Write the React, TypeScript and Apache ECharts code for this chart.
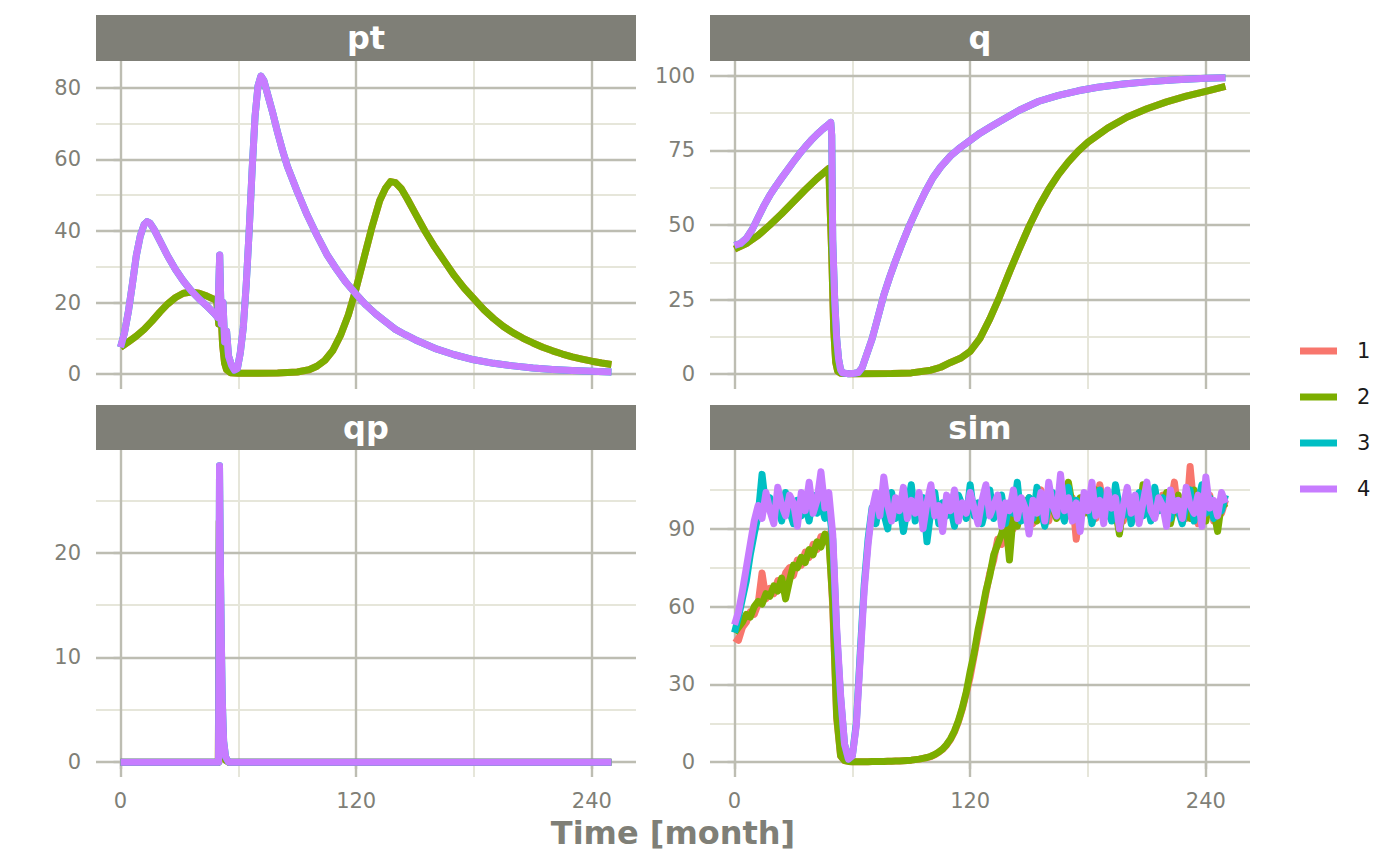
import React, { useEffect, useRef } from 'react';
import * as echarts from 'echarts';

// group names and ggplot hue colours
const seriesNames = ['1', '2', '3', '4'];
const seriesColors = ['#F8766D', '#7CAE00', '#00BFC4', '#C77CFF'];
const panelNames = ['pt', 'q', 'qp', 'sim'];

// x axis (months)
const timeTicks = [0, 120, 240];
const timeMinor = [60, 180];

// y axis ticks per panel
const ptTicks = [0, 20, 40, 60, 80];
const ptMinor = [10, 30, 50, 70];
const qTicks = [0, 25, 50, 75, 100];
const qMinor = [12.5, 37.5, 62.5, 87.5];
const qpTicks = [0, 10, 20];
const qpMinor = [5, 15, 25];
const simTicks = [0, 30, 60, 90];
const simMinor = [15, 45, 75, 105];

// pt: groups 1 & 2 share a trajectory, groups 3 & 4 share another
const ptGroupA: [number, number][] = [
  [0, 7.5], [4, 9.0], [8, 10.6], [12, 12.5], [16, 14.8], [20, 17.3], [24, 19.6], [28, 21.4],
  [32, 22.6], [36, 22.9], [40, 22.6], [44, 21.8], [48, 20.8], [49, 20.3], [50, 14], [51, 19],
  [52, 8], [53, 3], [54, 1.2], [56, 0.4], [60, 0.2], [70, 0.2], [80, 0.3], [90, 0.6],
  [96, 1.2], [100, 2.2], [104, 3.8], [108, 6.5], [112, 10.8], [116, 16.5], [120, 24],
  [124, 32.5], [128, 41], [132, 48.5], [135, 52], [137.5, 53.8], [140, 53.5], [143, 51.8],
  [146, 49], [150, 45], [155, 40], [160, 35.5], [165, 31.5], [170, 27.5], [175, 24],
  [180, 21], [185, 18], [190, 15.5], [195, 13.3], [200, 11.5], [205, 10], [210, 8.7],
  [215, 7.5], [220, 6.5], [225, 5.6], [230, 4.8], [235, 4.2], [240, 3.6], [245, 3.1], [250, 2.7],
];
const ptGroupB: [number, number][] = [
  [0, 7.5], [2, 11.5], [4, 17.5], [6, 25], [8, 33], [10, 38.5], [12, 41.8], [13.5, 42.6],
  [15, 42.2], [17, 40.5], [20, 37.3], [24, 33], [28, 29.2], [32, 26], [36, 23.3], [40, 21],
  [44, 19], [48, 16.8], [49.5, 15.8], [50.5, 33.3], [51.3, 14], [52.2, 20], [53, 9], [54, 12],
  [55, 5], [56.5, 2.5], [58, 1.1], [59.5, 1.5], [61, 6], [62.5, 13], [64, 25], [65.5, 40],
  [67, 57], [68.5, 72], [70, 80.5], [71.5, 83.3], [73, 82], [75, 78], [77.5, 73], [80, 67.5],
  [82.5, 62.5], [85, 58], [90, 51], [95, 44.5], [100, 38.8], [105, 33.5], [110, 29.3],
  [115, 25.5], [120, 22.3], [125, 19.3], [130, 16.8], [135, 14.6], [140, 12.5], [145, 11],
  [150, 9.6], [160, 7.2], [170, 5.4], [180, 4.0], [190, 3.0], [200, 2.3], [210, 1.7],
  [220, 1.3], [230, 1.0], [240, 0.8], [250, 0.6],
];

// q
const qGroupA: [number, number][] = [
  [0, 41.9], [6, 43.8], [12, 46.5], [18, 50], [24, 53.8], [30, 57.8], [36, 61.8], [42, 65.6],
  [48, 69], [49.5, 40], [50.5, 15], [51.5, 4], [52.5, 1], [54, 0.3], [60, 0.1], [80, 0.2],
  [90, 0.4], [100, 1.3], [105, 2.3], [110, 3.9], [115, 5.3], [120, 7.6], [125, 12], [130, 18.5],
  [135, 26], [140, 34.2], [145, 42], [150, 49.5], [155, 56.2], [160, 62], [165, 67], [170, 71.2],
  [175, 74.8], [180, 77.8], [190, 82.5], [200, 86.2], [210, 89], [220, 91.3], [230, 93.2],
  [240, 94.8], [250, 96.5],
];
const qGroupB: [number, number][] = [
  [0, 43.2], [3, 43.8], [6, 45.5], [9, 48.5], [12, 52.5], [15, 56.5], [18, 60], [21, 63],
  [24, 65.8], [27, 68.5], [30, 71.2], [33, 73.8], [36, 76.2], [39, 78.4], [42, 80.4],
  [45, 82.2], [48, 83.8], [49, 84.4], [49.5, 80], [50, 45], [51, 25], [52, 12], [53, 5],
  [54, 1.5], [55, 0.4], [58, 0.1], [61, 0.3], [63, 0.5], [65, 2.2], [67, 6], [70, 11.7],
  [73, 19], [76, 26.5], [79, 32.5], [82, 38], [85, 43.2], [89, 49.7], [93, 55.5], [97, 61],
  [101, 65.8], [105, 69.5], [110, 73.2], [115, 76], [120, 78.4], [125, 80.8], [130, 82.8],
  [137, 85.5], [145, 88.5], [155, 91.5], [165, 93.5], [175, 95], [185, 96.2], [198, 97.3],
  [210, 98], [225, 98.7], [240, 99.2], [250, 99.4],
];

// qp
const qpGroupA: [number, number][] = [
  [0, 0], [49.8, 0], [50.3, 23], [50.8, 12], [51.5, 5], [52.5, 1.2], [53.5, 0.2], [55, 0], [250, 0],
];
const qpGroupB: [number, number][] = [
  [0, 0], [49.9, 0], [50.4, 28.3], [50.9, 18], [51.3, 12], [51.8, 6], [52.5, 2], [53.5, 0.5],
  [55, 0], [250, 0],
];

// sim: one simulated realisation per group, every 2 months from 0 to 250
const simMonths = Array.from({ length: 126 }, (_, i) => i * 2);
const sim1 = [
  48, 47, 52, 54, 58, 57, 61, 73, 63, 67,
  65, 70, 68, 73, 75, 72, 78, 76, 81, 79,
  84, 82, 87, 85, 88, 60, 17, 2.4, 0.6, 0.3,
  0.2, 0.2, 0.2, 0.2, 0.2, 0.3, 0.3, 0.3, 0.3, 0.4,
  0.4, 0.5, 0.5, 0.6, 0.7, 0.8, 1.0, 1.2, 1.5, 1.8,
  2.2, 2.9, 3.8, 5.0, 6.6, 8.8, 11.7, 15.6, 20.5, 26.5,
  33, 41, 49, 57, 65, 73, 78, 86, 84, 91,
  95, 90, 98, 94, 101, 96, 92, 100, 105, 97,
  93, 101, 96, 104, 99, 95, 102, 86, 98, 103,
  96, 100, 94, 107, 99, 97, 102, 95, 100, 93,
  104, 98, 101, 96, 99, 105, 94, 100, 97, 103,
  95, 99, 108, 96, 101, 94, 114, 98, 92, 100,
  97, 103, 93, 99, 96, 101,
];
const sim2 = [
  50, 52, 54, 57, 56, 60, 62, 61, 65, 64,
  68, 66, 71, 63, 70, 76, 75, 79, 77, 82,
  80, 85, 83, 88, 86, 62, 18, 2.5, 0.6, 0.3,
  0.2, 0.2, 0.2, 0.2, 0.2, 0.3, 0.3, 0.3, 0.3, 0.4,
  0.4, 0.5, 0.5, 0.6, 0.7, 0.8, 1.0, 1.2, 1.5, 1.8,
  2.3, 3.0, 3.9, 5.1, 6.8, 9, 12, 16, 21, 27,
  35, 42, 51, 58, 66, 72, 80, 84, 88, 94,
  78, 96, 91, 99, 95, 102, 97, 93, 100, 96,
  104, 98, 94, 101, 97, 108, 99, 95, 102, 96,
  100, 93, 105, 98, 101, 95, 103, 97, 88, 99,
  104, 96, 100, 93, 107, 98, 102, 95, 100, 97,
  104, 92, 99, 103, 96, 101, 94, 105, 98, 100,
  93, 102, 97, 89, 100, 98,
];
const sim3 = [
  50, 56, 63, 70, 80, 88, 95, 111, 98, 102,
  95, 100, 93, 104, 97, 92, 101, 95, 99, 93,
  103, 96, 100, 94, 99, 86, 50, 25, 7, 1.2,
  2.6, 15, 42, 68, 86, 98, 92, 101, 96, 90,
  104, 94, 100, 89, 98, 107, 93, 99, 102, 85,
  97, 104, 92, 100, 95, 98, 91, 103, 99, 94,
  107, 95, 100, 92, 98, 105, 94, 99, 103, 92,
  100, 96, 108, 93, 99, 102, 94, 106, 97, 91,
  100, 104, 95, 98, 93, 106, 97, 101, 94, 99,
  103, 92, 98, 105, 96, 100, 93, 107, 98, 95,
  101, 92, 99, 104, 95, 100, 93, 106, 97, 102,
  96, 94, 101, 97, 92, 99, 105, 93, 100, 107,
  96, 102, 94, 99, 97, 103,
];
const sim4 = [
  53, 58, 66, 75, 84, 93, 99, 94, 104, 97,
  92, 106, 99, 95, 103, 100, 91, 104, 97, 108,
  96, 101, 112, 98, 104, 88, 52, 26, 7, 1.2,
  2.5, 14, 40, 66, 84, 97, 104, 95, 110, 99,
  93, 102, 97, 106, 94, 101, 96, 104, 90, 100,
  107, 95, 99, 89, 103, 97, 105, 93, 100, 96,
  104, 98, 92, 101, 107, 95, 99, 103, 91, 100,
  97, 105, 94, 102, 98, 88, 101, 96, 104, 93,
  108, 99, 95, 111, 97, 102, 93, 100, 89, 104,
  97, 108, 95, 101, 92, 105, 98, 102, 90, 99,
  106, 96, 103, 92, 100, 108, 97, 94, 102, 99,
  91, 105, 97, 101, 94, 106, 99, 96, 103, 91,
  110, 98, 101, 95, 104, 100,
];

const FONT = 'DejaVu Sans';
const GREY = '#7F7F77';
const MAJOR = '#BDBDB2';
const MINOR = '#E6E6DA';

const toPairs = (vals: number[]) => simMonths.map((t, i) => [t, vals[i]]);

const App: React.FC = () => {
  const chartRef = useRef<HTMLDivElement | null>(null);

  useEffect(() => {
    if (!chartRef.current) return;
    const chart = echarts.init(chartRef.current, undefined, { renderer: 'svg' });

    const panels = [
      { left: 96, top: 61, height: 328, stripTop: 15, stripH: 46, range: [-4.17, 87.5], ticks: ptTicks, minor: ptMinor, data: [ptGroupA, ptGroupA, ptGroupB, ptGroupB], bottom: false },
      { left: 710, top: 61, height: 328, stripTop: 15, stripH: 46, range: [-5, 105], ticks: qTicks, minor: qMinor, data: [qGroupA, qGroupA, qGroupB, qGroupB], bottom: false },
      { left: 96, top: 450, height: 327, stripTop: 405, stripH: 45, range: [-1.42, 29.8], ticks: qpTicks, minor: qpMinor, data: [qpGroupA, qpGroupA, qpGroupB, qpGroupB], bottom: true },
      { left: 710, top: 450, height: 327, stripTop: 405, stripH: 45, range: [-5.7, 120.4], ticks: simTicks, minor: simMinor, data: [toPairs(sim1), toPairs(sim2), toPairs(sim3), toPairs(sim4)], bottom: true },
    ];
    const width = 540;

    const tickStyle = { show: true, length: 7, lineStyle: { color: GREY, width: 2.2 } };
    const labelStyle = { fontSize: 21, color: GREY, fontFamily: FONT };

    const grid = panels.map((p) => ({ left: p.left, top: p.top, width, height: p.height }));
    const xAxis = panels.map((p, i) => ({
      type: 'value', gridIndex: i, min: -12.5, max: 262.5,
      axisLine: { show: false }, splitLine: { show: false },
      axisTick: p.bottom ? { ...tickStyle, customValues: timeTicks } : { show: false },
      axisLabel: p.bottom ? { ...labelStyle, margin: 13, customValues: timeTicks } : { show: false },
    }));
    const yAxis = panels.map((p, i) => ({
      type: 'value', gridIndex: i, min: p.range[0], max: p.range[1],
      axisLine: { show: false }, splitLine: { show: false },
      axisTick: { ...tickStyle, customValues: p.ticks },
      axisLabel: { ...labelStyle, margin: 15, customValues: p.ticks },
    }));

    const series: any[] = [];
    panels.forEach((p, i) => {
      const lines = [
        ...p.minor.map((v) => ({ yAxis: v, lineStyle: { color: MINOR, width: 2 } })),
        ...timeMinor.map((v) => ({ xAxis: v, lineStyle: { color: MINOR, width: 2 } })),
        ...p.ticks.map((v) => ({ yAxis: v, lineStyle: { color: MAJOR, width: 2.4 } })),
        ...timeTicks.map((v) => ({ xAxis: v, lineStyle: { color: MAJOR, width: 2.4 } })),
      ];
      series.push({
        type: 'line', name: 'grid' + i, xAxisIndex: i, yAxisIndex: i, data: [], z: 1, silent: true,
        markLine: { silent: true, z: 1, symbol: ['none', 'none'], label: { show: false }, lineStyle: { type: 'solid' }, data: lines },
      });
      p.data.forEach((d, k) => {
        series.push({
          type: 'line', name: seriesNames[k], xAxisIndex: i, yAxisIndex: i, data: d, z: 3,
          showSymbol: false, symbol: 'none', color: seriesColors[k],
          lineStyle: { width: 7, color: seriesColors[k], cap: 'butt', join: 'round' },
        });
      });
    });

    const graphic: any[] = [];
    panels.forEach((p, i) => {
      graphic.push({ type: 'rect', shape: { x: p.left, y: p.stripTop, width, height: p.stripH }, style: { fill: GREY } });
      graphic.push({
        type: 'text', x: p.left + width / 2, y: p.stripTop + p.stripH / 2,
        style: { text: panelNames[i], fill: '#FFFFFF', fontSize: 32, fontWeight: 'bold', fontFamily: FONT, align: 'center', verticalAlign: 'middle' },
      });
    });
    graphic.push({
      type: 'text', x: 673, y: 833,
      style: { text: 'Time [month]', fill: GREY, fontSize: 32, fontWeight: 'bold', fontFamily: FONT, align: 'center', verticalAlign: 'middle' },
    });

    chart.setOption({
      animation: false,
      backgroundColor: '#FFFFFF',
      textStyle: { fontFamily: FONT },
      color: seriesColors,
      grid, xAxis, yAxis, series, graphic,
      legend: {
        data: seriesNames, orient: 'vertical', left: 1300, top: 340.5, padding: 0,
        icon: 'rect', itemWidth: 37, itemHeight: 7, itemGap: 25,
        textStyle: { fontSize: 21, color: '#1A1A1A', fontFamily: FONT, padding: [0, 0, 0, 15] },
      },
    });

    return () => {
      chart.dispose();
    };
  }, []);

  return <div ref={chartRef} style={{ position: 'fixed', left: 0, top: 0, width: '1400px', height: '865px' }} />;
};

export default App;
